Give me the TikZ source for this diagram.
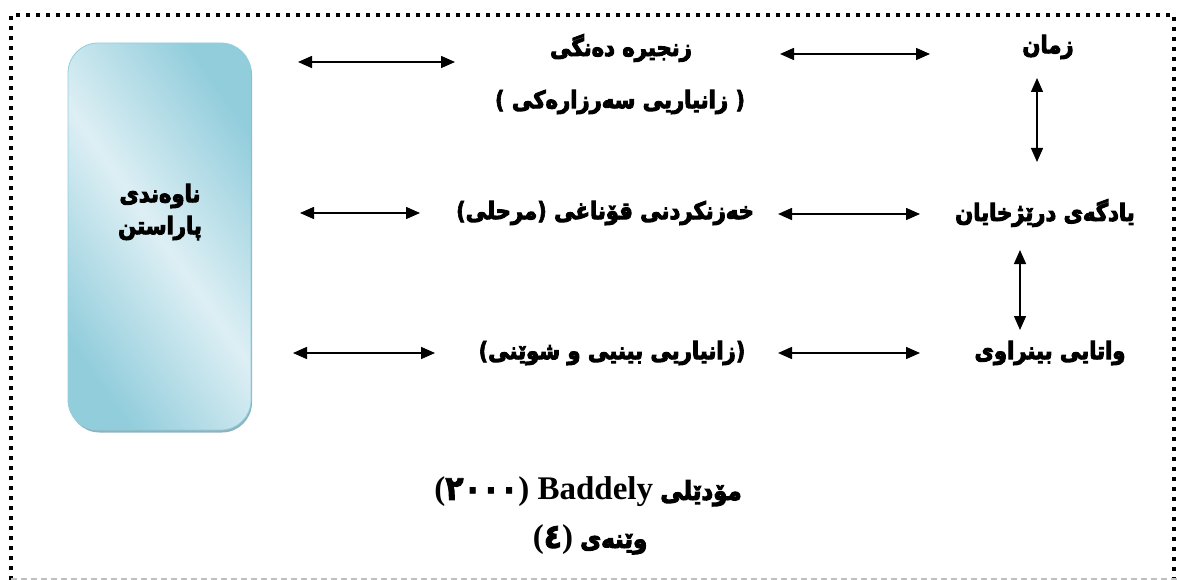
\documentclass[tikz,border=0pt]{standalone}
\usepackage{fontspec}
\setmainfont{Liberation Sans}
\newfontfamily\ku[Script=Arabic, FakeStretch=0.88, BoldFeatures={FakeBold=4}]{DejaVu Sans}
\newfontfamily\lat[FakeStretch=0.88, BoldFeatures={FakeBold=2.5}]{DejaVu Sans}
\newfontfamily\tms{Liberation Serif}
\TeXXeTstate=1
\usetikzlibrary{arrows.meta}
\definecolor{boxedge}{HTML}{92CDDC}
\definecolor{boxmid}{HTML}{DDEFF4}
\definecolor{boxshade}{HTML}{8DB3BE}
\definecolor{cutline}{HTML}{BFBFBF}
\newcommand{\lp}{{\lat(}}
\newcommand{\rp}{{\lat)}}
\newcommand{\bigtms}{\tms\fontsize{33}{36}\selectfont}
\newcommand{\bignum}{\lat\fontsize{34}{36}\selectfont}
\tikzset{
  lbl/.style={font=\ku\bfseries\fontsize{24}{28}\selectfont, inner sep=0pt},
  caption/.style={font=\bfseries\fontsize{26}{30}\selectfont, inner sep=0pt},
  link/.style={{Triangle[length=14pt,width=12pt]}-{Triangle[length=14pt,width=12pt]}, line width=1.5pt},
  store/.style={rounded corners=30pt, minimum width=183pt, minimum height=387pt,
    draw=boxedge, line width=0.8pt, left color=boxedge, right color=boxedge,
    middle color=boxmid, shading angle=-55},
}
\begin{document}
\begin{tikzpicture}[x=1pt,y=-1pt]
  \useasboundingbox (0,0) rectangle (1177,580);
  % frame
  \draw[line width=4pt, dash pattern=on 4pt off 6pt] (11,580) -- (11,15) -- (1174,15) -- (1174,580);
  \draw[cutline, line width=1.5pt, dash pattern=on 6pt off 4pt] (11,579) -- (1177,579);
  % store
  \fill[boxshade, rounded corners=30pt] (69.5,45) rectangle (252,432.5);
  \node[store] (box) at (159.5,236.5) {};
  \path
    (160,212) node[lbl, align=center] (boxlbl){ناوەندی\\[4pt]پاراستن}
    (621,48) node[lbl] (t1){\beginR زنجیره دەنگی\endR}
    (620,102) node[lbl] (t1b){\lp{} \beginR زانیاریی سەرزارەکی\endR{} \rp}
    (1048,47) node[lbl] (t2){زمان}
    (605,213) node[lbl] (t3){\lp مرحلی\rp{} \beginR خەزنکردنی قۆناغی\endR}
    (1045,213) node[lbl] (t4){\beginR یادگەی درێژخایان\endR}
    (612,353) node[lbl] (t5){\lp\beginR زانیاریی بینیی و شوێنی\endR\rp}
    (1050,353) node[lbl] (t6){\beginR واتایی بینراوی\endR}
    (588,492) node[caption] (c1){{\bigtms(}{\bignum ٢٠٠٠}{\bigtms) Baddely} {\ku مۆدێلی}}
    (590,540) node[caption] (c2){{\bigtms(}{\bignum ٤}{\bigtms)} {\ku وێنەی}};
  \path
    (298,62) coordinate (a1) (455,62) coordinate (a2)
    (780,54) coordinate (b1) (930,54) coordinate (b2)
    (1037,78) coordinate (v1) (1037,162) coordinate (v2)
    (300,213) coordinate (a3) (420,213) coordinate (a4)
    (778,214) coordinate (b3) (920,214) coordinate (b4)
    (1020,250) coordinate (v3) (1020,330) coordinate (v4)
    (293,353) coordinate (a5) (435,353) coordinate (a6)
    (778,353) coordinate (b5) (920,353) coordinate (b6);
  \begin{scope}[link]
    \draw (a1) to (a2);
    \draw (b1) to (b2);
    \draw (v1) to (v2);
    \draw (a3) to (a4);
    \draw (b3) to (b4);
    \draw (v3) to (v4);
    \draw (a5) to (a6);
    \draw (b5) to (b6);
  \end{scope}
\end{tikzpicture}
\end{document}
